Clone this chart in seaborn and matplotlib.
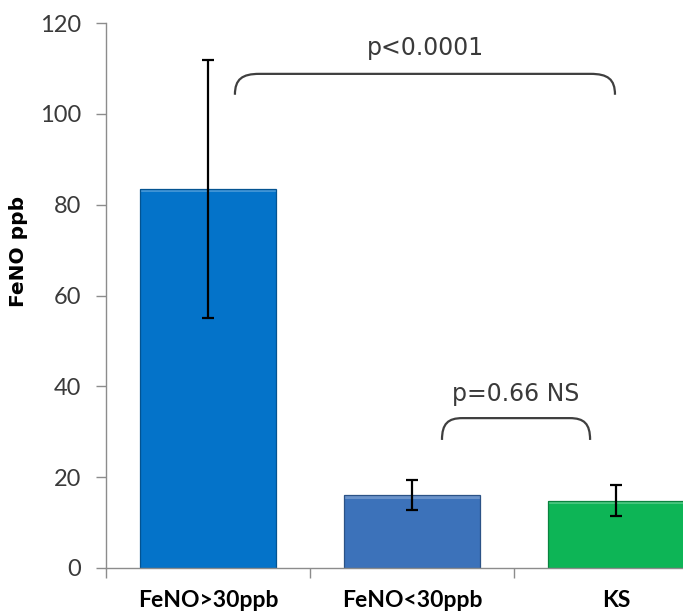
import numpy as np
import matplotlib
matplotlib.use("Agg")
import matplotlib.pyplot as plt
import seaborn as sns
from matplotlib.path import Path
from matplotlib.patches import PathPatch, Rectangle
import matplotlib.colors as mcolors

# ---- data ----
categories = ["FeNO>30ppb", "FeNO<30ppb", "KS"]
means = [83.4, 16.0, 14.8]
errors = [28.4, 3.3, 3.4]
bar_colors = ["#0473C9", "#3C72BA", "#0DB556"]
y_ticks = [0, 20, 40, 60, 80, 100, 120]
ylabel = "FeNO ppb"
# significance annotations: (left category, right category, label)
brackets = [(0, 2, "p<0.0001"), (1, 2, "p=0.66 NS")]

sns.set_theme(style="white")
plt.rcParams["font.family"] = ["Lato", "DejaVu Sans"]

fig = plt.figure(figsize=(6.83, 6.13), dpi=100)
ax = fig.add_axes([106 / 683, 45 / 613, 612 / 683, 545 / 613])

sns.barplot(x=categories, y=means, hue=categories, palette=bar_colors,
            legend=False, width=0.67, errorbar=None, ax=ax,
            saturation=1, edgecolor="none", linewidth=0)

# bevel effect built from the drawn bars
for patch, c in zip(ax.patches, bar_colors):
    x0, y0 = patch.get_x(), patch.get_y()
    w, h = patch.get_width(), patch.get_height()
    base = mcolors.to_rgb(c)
    light = tuple(min(1, v * 0.6 + 0.4) for v in base)
    dark = tuple(v * 0.72 for v in base)
    z = patch.get_zorder()
    ax.add_patch(Rectangle((x0, y0 + h - 0.7), w, 0.7, color=light, alpha=0.6, lw=0, zorder=z + 0.1))
    ax.add_patch(Rectangle((x0, y0), w, h, fill=False, edgecolor=dark, lw=0.9, zorder=z + 0.2))

xpos = np.arange(len(categories))
ax.errorbar(xpos, means, yerr=errors, fmt="none", ecolor="black",
            elinewidth=1.6, capsize=4.5, capthick=1.6, zorder=5)

ax.set_ylim(0, 120)
ax.set_xlim(-0.5, len(categories) - 0.5)
ax.set_yticks(y_ticks)
ax.set_yticklabels([str(t) for t in y_ticks], fontsize=17, color="#3a3a3a")
ax.set_xticks(xpos)
ax.set_xticklabels(categories, fontsize=16.5, fontweight="bold", color="black")
ax.set_xticks(np.arange(-0.5, len(categories) + 0.5, 1.0), minor=True)
ax.tick_params(axis="x", which="major", length=0, pad=16)
ax.tick_params(axis="x", which="minor", length=7, width=1, color="#8c8c8c", direction="out", bottom=True)
ax.tick_params(axis="y", which="major", length=7, width=1, color="#8c8c8c", direction="out", left=True, pad=11)

ax.set_ylabel(ylabel, fontsize=14.5, fontweight="bold", color="black", family="DejaVu Sans")
ax.yaxis.set_label_coords(-0.128, 0.58)
ax.set_xlabel("")

for s in ["top", "right"]:
    ax.spines[s].set_visible(False)
for s in ["left", "bottom"]:
    ax.spines[s].set_color("#8c8c8c")
    ax.spines[s].set_linewidth(1)

# brackets
def bracket(ax, xl, xr, ytop, drop, rx, label, ty):
    verts = [(xl, ytop - drop), (xl, ytop - drop * 0.25), (xl + rx * 0.3, ytop), (xl + rx, ytop),
             (xr - rx, ytop), (xr - rx * 0.3, ytop), (xr, ytop - drop * 0.25), (xr, ytop - drop)]
    codes = [Path.MOVETO, Path.CURVE4, Path.CURVE4, Path.CURVE4,
             Path.LINETO, Path.CURVE4, Path.CURVE4, Path.CURVE4]
    ax.add_patch(PathPatch(Path(verts, codes), fill=False, edgecolor="#3f3f3f", lw=1.6,
                           clip_on=False, zorder=6))
    ax.text((xl + xr) / 2, ty, label, ha="center", va="center", fontsize=17,
            color="#3a3a3a", family="DejaVu Sans")

b1, b2 = brackets
bracket(ax, b1[0] + 0.132, b1[1] - 0.005, 108.8, 4.6, 0.12, b1[2], 114.6)
bracket(ax, b2[0] + 0.147, b2[1] - 0.127, 33.0, 4.8, 0.10, b2[2], 38.4)

fig.savefig("out.png", dpi=100)
